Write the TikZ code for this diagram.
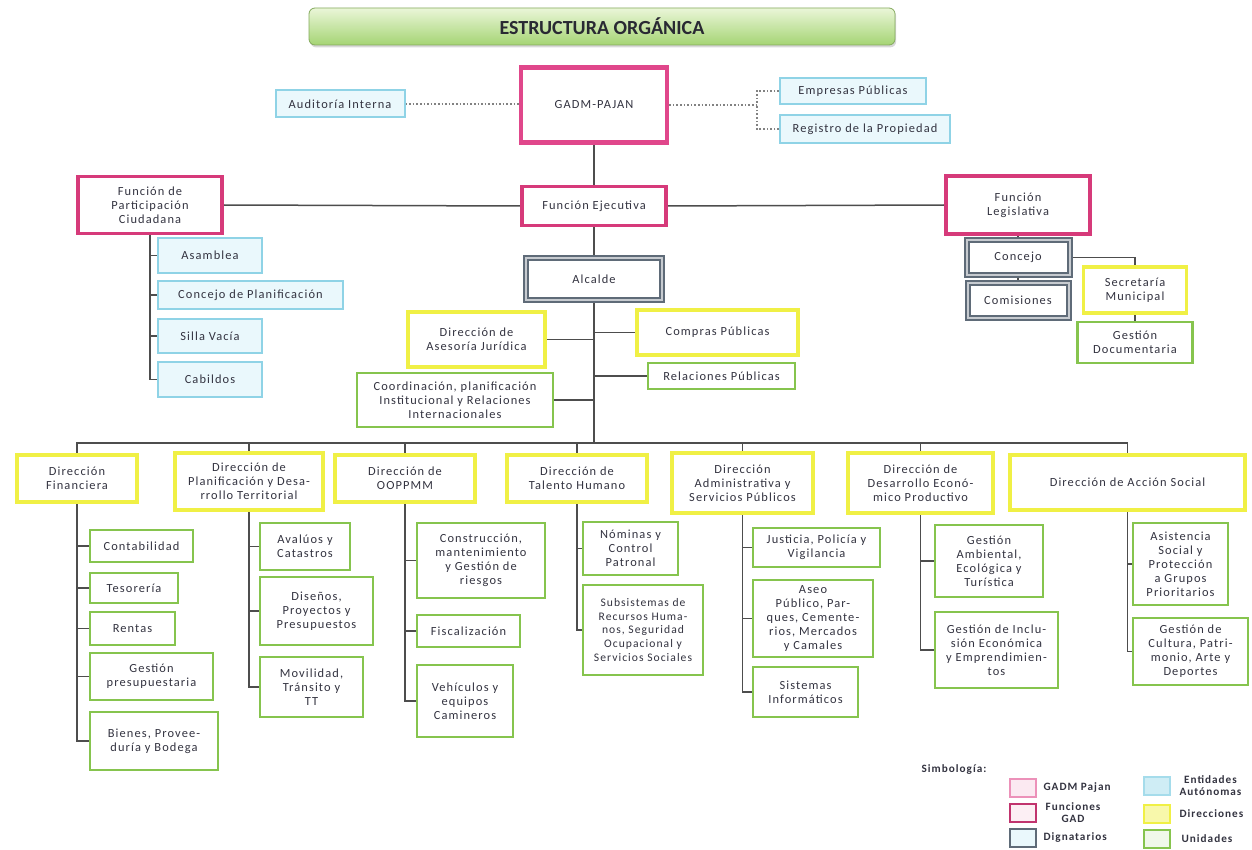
\documentclass[tikz,border=0pt]{standalone}
\usepackage{fontspec}
\setmainfont{Carlito}
\newfontfamily\orgfont[LetterSpace=9]{Carlito}
\usetikzlibrary{positioning, shadows, backgrounds}

\definecolor{gadmrosa}{HTML}{E0478B}
\definecolor{funcrosa}{HTML}{D63A7A}
\definecolor{entcian}{HTML}{8FD3E6}
\definecolor{entfondo}{HTML}{EAF8FC}
\definecolor{diggris}{HTML}{5F6B78}
\definecolor{diramarillo}{HTML}{F0F045}
\definecolor{univerde}{HTML}{86C44E}
\definecolor{linea}{HTML}{4D4D4D}
\definecolor{texto}{HTML}{333340}
\definecolor{tituloarriba}{HTML}{EAF6D8}
\definecolor{tituloabajo}{HTML}{A5D474}

\begin{document}
\begin{tikzpicture}[x=0.5pt, y=-0.5pt,
  base/.style={align=center, inner sep=1pt, fill=white, text=texto,
    font={\orgfont\fontsize{6.2}{7}\selectfont}},
  titulo/.style={rounded corners=3pt, top color=tituloarriba, bottom color=tituloabajo,
    draw=tituloabajo!80!black, line width=0.4pt, text=texto!80!black,
    font={\bfseries\fontsize{10}{12}\selectfont},
    drop shadow={opacity=0.3, shadow xshift=0.6pt, shadow yshift=-1.2pt}},
  gadm/.style={base, draw=gadmrosa, line width=2.2pt},
  funcion/.style={base, draw=funcrosa, line width=1.8pt},
  entidad/.style={base, draw=entcian, fill=entfondo, line width=1pt},
  dignatario/.style={base, draw=diggris, line width=1pt, double=diggris!35, double distance=1pt},
  direccion/.style={base, draw=diramarillo, line width=1.8pt},
  unidad/.style={base, draw=univerde, line width=1.4pt},
  apretado/.style={font={\orgfont\fontsize{5.8}{6.8}\selectfont}},
  conector/.style={draw=linea, line width=0.75pt},
  punteado/.style={draw=linea!70, line width=0.8pt, densely dotted},
  muestra/.style={minimum width=13pt, minimum height=9pt, inner sep=0pt, line width=1.2pt},
  rotulo/.style={align=center, inner sep=0pt, text=texto,
    font={\orgfont\bfseries\fontsize{5.6}{6}\selectfont}},
]
\useasboundingbox (0,0) rectangle (1252,850);

% titulo y nivel superior
\node[titulo, minimum width=293pt, minimum height=18.5pt] (titulo) at (602,26.5) {ESTRUCTURA ORGÁNICA};
\node[gadm, minimum width=73pt, minimum height=37.5pt] (gadm) at (594,105) {GADM-PAJAN};
\node[entidad, minimum width=64.5pt, minimum height=13.5pt] (auditoria) at (340,104) {Auditoría Interna};
\node[entidad, minimum width=73pt, minimum height=13pt] (empresas) at (853,91) {Empresas Públicas};
\node[entidad, minimum width=85pt, minimum height=14pt] (registro) at (865,129) {Registro de la Propiedad};

% funciones
\node[funcion, minimum width=72pt, minimum height=28.5pt] (participacion) at (150,205) {Función de\\Participación\\Ciudadana};
\node[funcion, minimum width=72pt, minimum height=19.5pt] (ejecutiva) at (594,206) {Función Ejecutiva};
\node[funcion, minimum width=72pt, minimum height=29pt] (legislativa) at (1018,205) {Función\\Legislativa};
\node[dignatario, minimum width=68pt, minimum height=21pt] (alcalde) at (594,279) {Alcalde};

% participacion ciudadana
\node[entidad, minimum width=52pt, minimum height=17.5pt] (asamblea) at (210,255.5) {Asamblea};
\node[entidad, minimum width=92.5pt, minimum height=14pt] (concplan) at (250.5,295) {Concejo de Planificación};
\node[entidad, minimum width=52pt, minimum height=17pt] (silla) at (210,336) {Silla Vacía};
\node[entidad, minimum width=52pt, minimum height=17.5pt] (cabildos) at (210,379.5) {Cabildos};

% legislativa
\node[dignatario, minimum width=51.5pt, minimum height=17.5pt] (concejo) at (1018,257.5) {Concejo};
\node[dignatario, minimum width=50.5pt, minimum height=17.5pt] (comisiones) at (1018,300.5) {Comisiones};
\node[direccion, minimum width=51.5pt, minimum height=23pt] (secretaria) at (1135,290) {Secretaría\\Municipal};
\node[unidad, minimum width=57.5pt, minimum height=20.5pt] (gestdoc) at (1135,342.5) {Gestión\\Documentaria};

% asesoria del alcalde
\node[direccion, minimum width=68.5pt, minimum height=27.5pt] (asesoria) at (476.5,339.5) {Dirección de\\Asesoría Jurídica};
\node[direccion, minimum width=80.5pt, minimum height=22.5pt] (compras) at (717.5,332.5) {Compras Públicas};
\node[unidad, minimum width=73.5pt, minimum height=13pt] (relaciones) at (721.5,376) {Relaciones Públicas};
\node[unidad, minimum width=98pt, minimum height=27pt] (coordinacion) at (455,400) {Coordinación, planificación\\Institucional y Relaciones\\Internacionales};

% direcciones
\node[direccion, minimum width=60pt, minimum height=23.5pt] (financiera) at (77,478.5) {Dirección\\Financiera};
\node[direccion, minimum width=74pt, minimum height=28.5pt] (planif) at (249,481.5) {Dirección de\\Planificación y Desa-\\rrollo Territorial};
\node[direccion, minimum width=70pt, minimum height=23.5pt] (oopp) at (405,478.5) {Dirección de\\OOPPMM};
\node[direccion, minimum width=70pt, minimum height=23.5pt] (talento) at (577,478.5) {Dirección de\\Talento Humano};
\node[direccion, minimum width=70.5pt, minimum height=30pt] (admin) at (742.5,483) {Dirección\\Administrativa y\\Servicios Públicos};
\node[direccion, minimum width=72.5pt, minimum height=30pt] (desarrollo) at (920.5,483) {Dirección de\\Desarrollo Econó-\\mico Productivo};
\node[direccion, minimum width=117.5pt, minimum height=27.5pt] (accion) at (1127.5,482.5) {Dirección de Acción Social};

% unidades
\node[unidad, minimum width=51.5pt, minimum height=16pt] (contab) at (141.5,546) {Contabilidad};
\node[unidad, minimum width=44pt, minimum height=15pt] (tesoreria) at (134,588) {Tesorería};
\node[unidad, minimum width=42.5pt, minimum height=16.5pt] (rentas) at (132.5,628.5) {Rentas};
\node[unidad, minimum width=61.5pt, minimum height=23.5pt] (gestpres) at (151.5,676.5) {Gestión\\presupuestaria};
\node[unidad, minimum width=64pt, minimum height=29pt] (bienes) at (154,741) {Bienes, Provee-\\duría y Bodega};

\node[unidad, minimum width=45pt, minimum height=23.5pt] (avaluos) at (305,546.5) {Avalúos y\\Catastros};
\node[unidad, minimum width=56.5pt, minimum height=34pt] (disenos) at (316.5,611) {Diseños,\\Proyectos y\\Presupuestos};
\node[unidad, minimum width=51.5pt, minimum height=30pt] (movilidad) at (311.5,687) {Movilidad,\\Tránsito y\\TT};

\node[unidad, minimum width=64pt, minimum height=37.5pt] (construccion) at (481,560.5) {Construcción,\\mantenimiento\\y Gestión de\\riesgos};
\node[unidad, minimum width=51.5pt, minimum height=16pt] (fiscal) at (468.5,631) {Fiscalización};
\node[unidad, minimum width=48pt, minimum height=36pt] (vehiculos) at (465,701) {Vehículos y\\equipos\\Camineros};

\node[unidad, minimum width=47.5pt, minimum height=26.5pt] (nominas) at (630.5,548.5) {Nóminas y\\Control\\Patronal};
\node[unidad, apretado, minimum width=60pt, minimum height=45pt] (subsist) at (643,630) {Subsistemas de\\Recursos Huma-\\nos, Seguridad\\Ocupacional y\\Servicios Sociales};

\node[unidad, minimum width=63.5pt, minimum height=19.5pt] (justicia) at (816.5,547.5) {Justicia, Policía y\\Vigilancia};
\node[unidad, minimum width=60pt, minimum height=38.5pt] (aseo) at (813,618.5) {Aseo\\Público, Par-\\ques, Cemente-\\rios, Mercados\\y Camales};
\node[unidad, minimum width=52.5pt, minimum height=25pt] (sistemas) at (805.5,692) {Sistemas\\Informáticos};

\node[unidad, minimum width=54pt, minimum height=36pt] (gestamb) at (989,561) {Gestión\\Ambiental,\\Ecológica y\\Turística};
\node[unidad, minimum width=61.5pt, minimum height=38pt] (gestincl) at (996.5,650) {Gestión de Inclu-\\sión Económica\\y Emprendimien-\\tos};

\node[unidad, minimum width=47.5pt, minimum height=41pt] (asistencia) at (1180.5,564) {Asistencia\\Social y\\Protección\\a Grupos\\Prioritarios};
\node[unidad, minimum width=57.5pt, minimum height=33.5pt] (cultura) at (1190.5,651.5) {Gestión de\\Cultura, Patri-\\monio, Arte y\\Deportes};

% simbologia
\node[rotulo] (simbologia) at (954,770) {Simbología:};
\node[muestra, draw=gadmrosa!60, fill=gadmrosa!12] (mgadm) at (1023,788) {};
\node[muestra, draw=funcrosa!90!black, fill=funcrosa!8] (mfunc) at (1023,813) {};
\node[muestra, draw=diggris, fill=entfondo] (mdig) at (1023,838) {};
\node[rotulo, right=3pt of mgadm] {GADM Pajan};
\node[rotulo, right=4pt of mfunc] {Funciones\\GAD};
\node[rotulo, right=3pt of mdig] {Dignatarios};
\node[muestra, draw=entcian!80, fill=entfondo!70!entcian] (ment) at (1157,786) {};
\node[muestra, draw=diramarillo, fill=diramarillo!45] (mdir) at (1157,814) {};
\node[muestra, draw=univerde, fill=univerde!12] (muni) at (1157,839) {};
\node[rotulo, right=4pt of ment] {Entidades\\Autónomas};
\node[rotulo, right=4pt of mdir] {Direcciones};
\node[rotulo, right=5pt of muni] {Unidades};

\begin{scope}[on background layer]
\fill[white] (0,0) rectangle (1252,850);
% conectores superiores
\draw[punteado] (auditoria.east) -- (auditoria.east -| gadm.west);
\coordinate (cruce) at (757,105);
\draw[punteado] (gadm.east |- cruce) -- (cruce);
\draw[punteado] (empresas.west) -| (cruce);
\draw[punteado] (registro.west) -| (cruce);
\draw[conector] (gadm.south) -- (ejecutiva.north);
\draw[conector] (participacion.east) -- (ejecutiva.west);
\draw[conector] (ejecutiva.east) -- (legislativa.west);
\draw[conector] (ejecutiva.south) -- (alcalde.north);
\foreach \hijo in {asamblea, concplan, silla, cabildos}
  \draw[conector] (participacion.south) |- (\hijo.west);
\draw[conector] (legislativa.south) -- (concejo.north);
\draw[conector] (concejo.south) -- (comisiones.north);
\draw[conector] (concejo.east) -| (secretaria.north);
\draw[conector] (secretaria.south) -- (gestdoc.north);
% eje del alcalde
\coordinate (bus) at (594,443);
\draw[conector] (alcalde.south) -- (bus);
\foreach \lado in {asesoria.east, coordinacion.east, compras.west, relaciones.west}
  \draw[conector] (\lado) -- (\lado -| bus);
\foreach \dir in {financiera, planif, oopp, talento, admin, desarrollo, accion}
  \draw[conector] (\dir.north) |- (bus);
% unidades
\foreach \u in {contab, tesoreria, rentas, gestpres, bienes}
  \draw[conector] (financiera.south) |- (\u.west);
\foreach \u in {avaluos, disenos, movilidad}
  \draw[conector] (planif.south) |- (\u.west);
\foreach \u in {construccion, fiscal, vehiculos}
  \draw[conector] (oopp.south) |- (\u.west);
\foreach \u in {nominas, subsist}
  \draw[conector] (talento.south) |- (\u.west);
\foreach \u in {justicia, aseo, sistemas}
  \draw[conector] (admin.south) |- (\u.west);
\foreach \u in {gestamb, gestincl}
  \draw[conector] (desarrollo.south) |- (\u.west);
\foreach \u in {asistencia, cultura}
  \draw[conector] (accion.south) |- (\u.west);
\end{scope}
\end{tikzpicture}
\end{document}
